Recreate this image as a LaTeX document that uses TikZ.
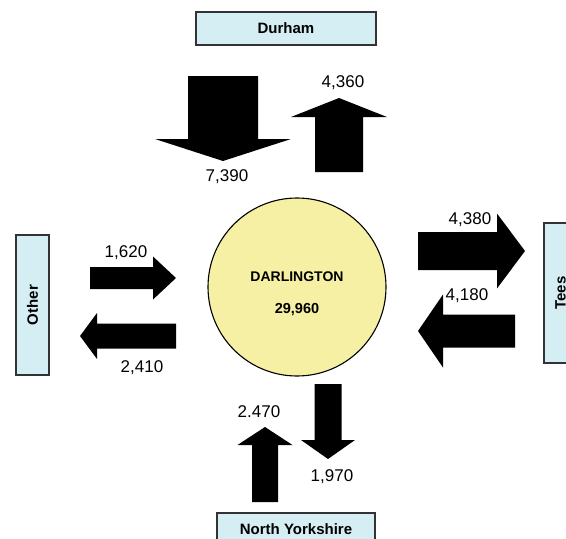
\documentclass[tikz,border=0pt]{standalone}
\usepackage{fontspec}
\setmainfont{Liberation Sans}
\usetikzlibrary{positioning}

\definecolor{regionblue}{HTML}{D5EEF4}
\definecolor{townyellow}{HTML}{F6F0A4}

% block arrow: tail point, angle, length, shaft width, head width, head length
\newcommand{\flowarrow}[6]{%
  \fill[shift={#1}, rotate=#2] (0,-#4/2) -- (#3-#6,-#4/2) -- (#3-#6,-#5/2) -- (#3,0)
    -- (#3-#6,#5/2) -- (#3-#6,#4/2) -- (0,#4/2) -- cycle;}

\begin{document}
\begin{tikzpicture}[x=1pt, y=-1pt,
    region/.style={draw=black!80, fill=regionblue, line width=1.3pt, inner sep=0pt,
      font=\fontsize{15}{17}\selectfont\bfseries},
    flow/.style={font=\fontsize{17}{19}\selectfont, inner sep=0pt}
]
\useasboundingbox (0,0) rectangle (566,539);

% Centre
\node (town) [circle, draw, line width=1.1pt, fill=townyellow, minimum size=178pt, inner sep=0pt] at (297,287) {};
\node (townname) [font=\fontsize{14}{16}\selectfont\bfseries] at (297,277) {DARLINGTON};
\node (townpop) [font=\fontsize{14.5}{16}\selectfont\bfseries] at (297,310) {29,960};

% Regions
\node (durham) [region, minimum width=180pt, minimum height=33pt] at (286,28.5) {Durham};
\node (other) [region, minimum width=33pt, minimum height=140pt] at (32.5,305) {};
\node [font=\fontsize{15}{17}\selectfont\bfseries, rotate=90] at (other.center) {Other};
\node (tees) [region, minimum width=33pt, minimum height=140pt] at (560.5,293) {};
\node [font=\fontsize{15}{17}\selectfont\bfseries, rotate=90] at (tees.center) {Tees};
\node (nyorks) [region, minimum width=158pt, minimum height=33pt] at (296,529.5) {North Yorkshire};

% Flows
\flowarrow{(223,76)}{-90}{85}{70}{136}{22}
\flowarrow{(339,172)}{90}{74}{48}{96}{19}
\flowarrow{(90,278)}{0}{86}{22}{43}{23}
\flowarrow{(176,336)}{180}{96}{25}{46}{17}
\flowarrow{(418,251)}{0}{107}{38}{75}{28}
\flowarrow{(515,331)}{180}{97}{33}{73}{25}
\flowarrow{(265,502)}{90}{75}{26}{55}{18}
\flowarrow{(328,384)}{-90}{75}{27}{54}{19}

% Flow labels
\node (durhamin) [flow] at (227,177) {7,390};
\node (durhamout) [flow] at (343,83) {4,360};
\node (otherin) [flow] at (126,253) {1,620};
\node (otherout) [flow] at (142,368) {2,410};
\node (teesout) [flow] at (470,220) {4,380};
\node (teesin) [flow] at (467,296) {4,180};
\node (nyorksin) [flow] at (259,412) {2.470};
\node (nyorksout) [flow] at (332,477) {1,970};

\end{tikzpicture}
\end{document}
